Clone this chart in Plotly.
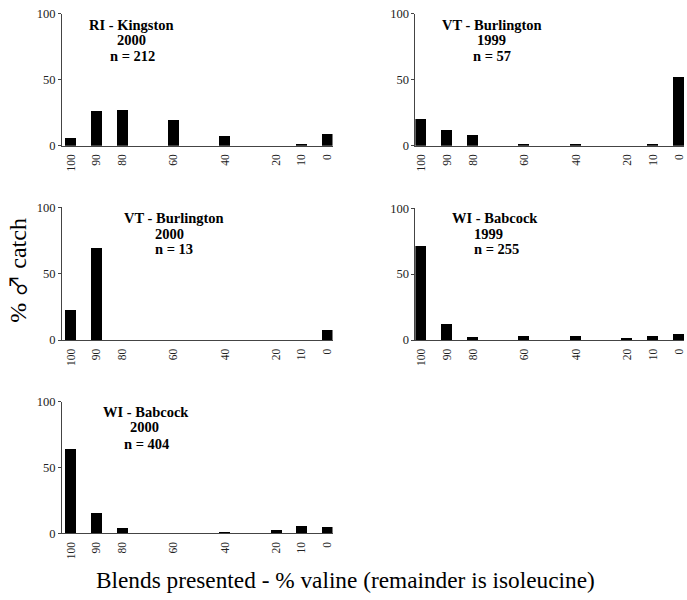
import plotly.graph_objects as go

blends = [100, 90, 80, 60, 40, 20, 10, 0]
tick_labels = ["100", "90", "80", "60", "40", "20", "10", "0"]

ri_kingston_2000 = [6.1, 26.8, 27.5, 19.4, 7.4, 0, 0.7, 9.1]
vt_burlington_1999 = [20.6, 12.0, 8.4, 1.5, 1.5, 0, 1.5, 52.6]
vt_burlington_2000 = [22.6, 68.8, 0, 0, 0, 0, 0, 7.4]
wi_babcock_1999 = [70.9, 11.8, 2.5, 3.2, 3.0, 1.2, 3.2, 4.7]
wi_babcock_2000 = [64.4, 15.6, 4.7, 0, 1.2, 3.0, 6.2, 5.0]

sites = ["RI - Kingston", "VT - Burlington", "VT - Burlington", "WI - Babcock", "WI - Babcock"]
years = ["2000", "1999", "2000", "1999", "2000"]
counts = ["n = 212", "n = 57", "n = 13", "n = 255", "n = 404"]
series = [ri_kingston_2000, vt_burlington_1999, vt_burlington_2000,
          wi_babcock_1999, wi_babcock_2000]

W, H = 687, 600
# pixel boxes: x0, x1, ytop, ybottom
boxes = [
    (62, 333, 7, 142),
    (416, 685, 7, 142),
    (62, 333, 205, 341),
    (416, 685, 206, 341),
    (62, 333, 404, 539),
]
xranges = [
    [103.5, -2.0],
    [102.3, -2.0],
    [103.5, -2.0],
    [102.3, -2.0],
    [103.5, -2.0],
]
# title line centres (x for each of the 3 lines, y for each line)
title_x = [(132, 132, 133), (493, 492.5, 493), (174, 170, 174), (496, 489, 497), (146, 145, 147)]
title_y = [(18, 33.7, 49.7), (18, 33.7, 49.7), (216, 232, 248), (216.3, 232, 248), (414.3, 430.5, 447)]

FONT = "Liberation Serif, Times New Roman, Times, serif"
fig = go.Figure()
layout = dict(
    width=W, height=H, margin=dict(l=0, r=0, t=0, b=0),
    paper_bgcolor="white", plot_bgcolor="white", showlegend=False,
    font=dict(family=FONT, color="black"),
    bargap=0,
)
annotations = []
for i, (vals, box) in enumerate(zip(series, boxes)):
    n = i + 1
    xa = "x" if n == 1 else f"x{n}"
    ya = "y" if n == 1 else f"y{n}"
    fig.add_trace(go.Bar(x=blends, y=vals, width=4.3, marker=dict(color="black", line=dict(width=0)),
                         xaxis=xa, yaxis=ya, hoverinfo="skip"))
    x0, x1, yt, yb = box
    layout["xaxis" if n == 1 else f"xaxis{n}"] = dict(
        domain=[x0 / W, x1 / W], range=xranges[i], anchor=ya,
        tickmode="array", tickvals=blends, ticktext=tick_labels, tickangle=-90,
        ticks="", showline=True, linecolor="#444", linewidth=1, showgrid=False,
        zeroline=False, tickfont=dict(family=FONT, size=11.5, color="#222"), ticklabelstandoff=3,
    )
    layout["yaxis" if n == 1 else f"yaxis{n}"] = dict(
        domain=[1 - yb / H, 1 - yt / H], range=[0, 100], anchor=xa,
        tickvals=[0, 50, 100], ticks="outside", ticklen=3, tickcolor="#444",
        showline=True, linecolor="#444", linewidth=1, showgrid=False, zeroline=False,
        tickfont=dict(family=FONT, size=12.5, color="#222"), ticklabelstandoff=0,
    )
    for txt, tx, ty in zip((sites[i], years[i], counts[i]), title_x[i], title_y[i]):
        annotations.append(dict(
            text="<b>" + txt + "</b>", xref="paper", yref="paper",
            x=tx / W, y=1 - ty / H, xanchor="center", yanchor="middle", showarrow=False,
            font=dict(family=FONT, size=14.5, color="black"), align="center",
        ))

annotations.append(dict(
    text="% <span style=\"font-family:Noto Sans CJK JP;font-size:22px\">♂</span> catch",
    xref="paper", yref="paper",
    x=16 / W, y=1 - 269 / H,
    textangle=-90, showarrow=False, xanchor="center", yanchor="middle",
    font=dict(family=FONT, size=24, color="black"),
))
annotations.append(dict(
    text="Blends presented - % valine (remainder is isoleucine)", xref="paper", yref="paper",
    x=346 / W, y=1 - 587 / H, showarrow=False, xanchor="center", yanchor="middle",
    font=dict(family=FONT, size=23.3, color="black"),
))
layout["annotations"] = annotations
fig.update_layout(**layout)
fig.write_html("out.html", config={"displayModeBar": False},
               post_script="document.body.style.margin='0';document.body.style.overflow='hidden';")
